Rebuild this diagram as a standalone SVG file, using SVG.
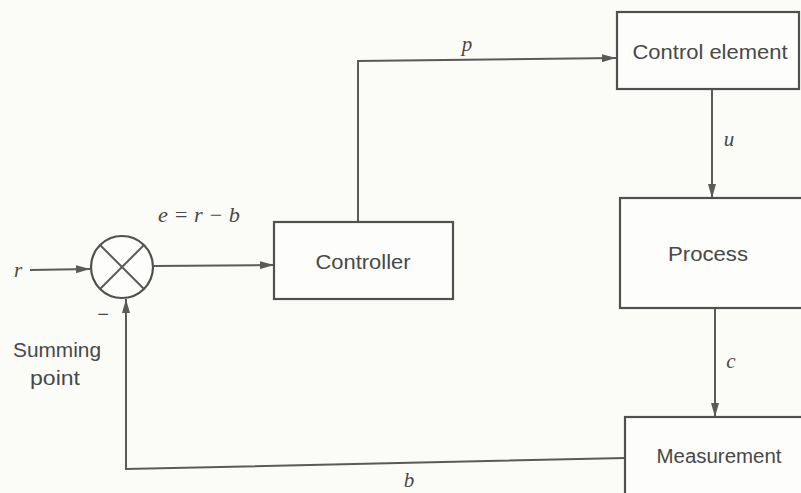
<svg xmlns="http://www.w3.org/2000/svg" width="801" height="493" viewBox="0 0 801 493">
<defs>
<marker id="ah" viewBox="0 0 14 8" refX="14" refY="4" markerWidth="14" markerHeight="8" markerUnits="userSpaceOnUse" orient="auto">
<path d="M0,0 L14,4 L0,8 Z" fill="#5a5a5a"/>
</marker>
<style>
.box{fill:#fdfdfb;stroke:#505050;stroke-width:2.2}
.ln{fill:none;stroke:#5a5a5a;stroke-width:2}
.lbl{font-family:"Liberation Sans",Arial,sans-serif;font-size:20px;fill:#484848;text-anchor:middle}
.var{font-family:"Liberation Serif","Times New Roman",serif;font-style:italic;font-size:21px;fill:#484848;text-anchor:middle}
</style>
</defs>
<rect width="801" height="493" fill="#fbfbf8"/>
<g id="connectors">
<line class="ln" x1="30" y1="270" x2="90" y2="269" marker-end="url(#ah)"/>
<line class="ln" x1="154" y1="266" x2="274" y2="265" marker-end="url(#ah)"/>
<polyline class="ln" points="358,222 358,61 616,58" marker-end="url(#ah)"/>
<line class="ln" x1="712" y1="89" x2="712" y2="198" marker-end="url(#ah)"/>
<line class="ln" x1="715" y1="308" x2="715" y2="417" marker-end="url(#ah)"/>
<polyline class="ln" points="625,458 126,469 126,299" marker-end="url(#ah)"/>
</g>
<g id="summing">
<circle cx="122" cy="267" r="31" class="box"/>
<line class="ln" x1="100" y1="245" x2="144" y2="289"/>
<line class="ln" x1="144" y1="245" x2="100" y2="289"/>
</g>
<g id="controller">
<rect class="box" x="274" y="222" width="179" height="77"/>
<text class="lbl" x="363" y="269" textLength="95" lengthAdjust="spacingAndGlyphs">Controller</text>
</g>
<g id="control-element">
<rect class="box" x="617" y="12" width="182" height="77"/>
<text class="lbl" x="710" y="59" textLength="155" lengthAdjust="spacingAndGlyphs">Control element</text>
</g>
<g id="process">
<rect class="box" x="620" y="198" width="185" height="110"/>
<text class="lbl" x="708" y="261" textLength="80" lengthAdjust="spacingAndGlyphs">Process</text>
</g>
<g id="measurement">
<rect class="box" x="625" y="417" width="185" height="90"/>
<text class="lbl" x="719" y="463" textLength="125" lengthAdjust="spacingAndGlyphs">Measurement</text>
</g>
<g id="labels">
<text class="var" x="18" y="277">r</text>
<text class="var" x="199" y="222" textLength="82" lengthAdjust="spacingAndGlyphs">e = r − b</text>
<text class="var" x="467" y="51">p</text>
<text class="var" x="729" y="146">u</text>
<text class="var" x="731" y="368">c</text>
<text class="var" x="409" y="487">b</text>
<text class="lbl" x="103" y="321" style="font-size:20px">−</text>
<text class="lbl" x="57" y="357" textLength="88" lengthAdjust="spacingAndGlyphs">Summing</text>
<text class="lbl" x="55" y="385" textLength="50" lengthAdjust="spacingAndGlyphs">point</text>
</g>
</svg>
